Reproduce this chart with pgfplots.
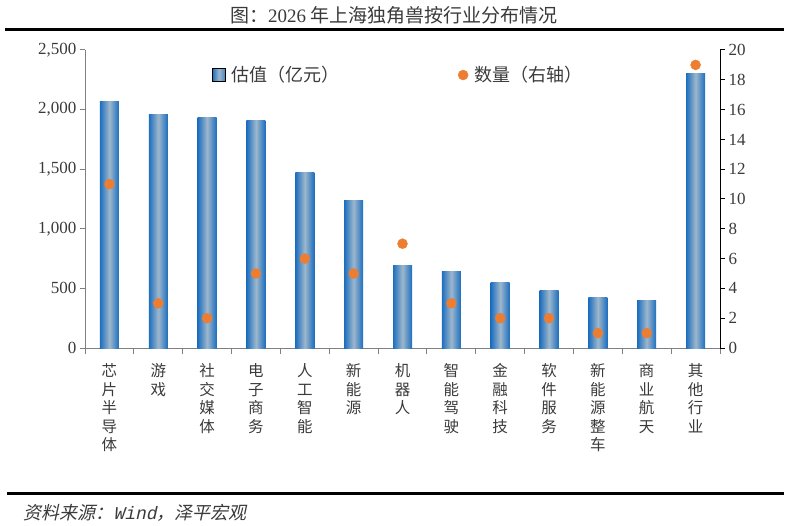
\documentclass[border=0pt]{standalone}
\usepackage{fontspec}
\usepackage{pgfplots}
\pgfplotsset{compat=1.18}
\setmainfont{Liberation Serif}
\newfontfamily\cjk{Noto Sans CJK SC}
\newfontfamily\cjkit[FakeSlant=0.22]{Noto Sans CJK SC}
\newfontfamily\monoit[FakeSlant=0.22]{Liberation Mono}
\definecolor{bb}{HTML}{1C6EBF}
\definecolor{bl}{HTML}{9DB7CC}
\definecolor{dot}{HTML}{ED7D31}
\definecolor{tx}{HTML}{3A3A3A}
\pgfplotsset{shbar/.style={ybar, bar width=19pt, bar shift=0pt, draw=none, left color=bb, right color=bb, middle color=bl, forget plot}}
\begin{document}
\begin{tikzpicture}
\useasboundingbox (0pt,0pt) rectangle (789pt,525pt);
% title and rules
\node[font=\fontsize{19}{19}\selectfont, text=tx] at (394pt,510pt) {{\cjk 图：}2026 {\cjk 年上海独角兽按行业分布情况}};
\draw[line width=3pt] (5pt,495pt) -- (784pt,495pt);
\draw[line width=3pt] (7pt,32pt) -- (784pt,32pt);
\node[anchor=west, font=\fontsize{18}{18}\selectfont, text=tx] at (20pt,12pt) {{\cjkit 资料来源：}{\monoit Wind}{\cjkit ，泽平宏观}};

\begin{axis}[
  at={(85pt,177pt)}, anchor=south west,
  scale only axis, width=635pt, height=298pt,
  xmin=-0.5, xmax=12.5, ymin=0, ymax=2500,
  axis x line*=bottom, axis y line*=left,
  every outer x axis line/.append style={-, draw=gray, line width=1pt},
  every outer y axis line/.append style={-, draw=gray, line width=1pt},
  ytick={0,500,...,2500},
  yticklabel style={font=\fontsize{17}{17}\selectfont, text=tx},
  /pgf/number format/.cd, 1000 sep={,}, assume math mode=true, /pgfplots/.cd,
  xtick={0,...,12},
  xticklabels={{芯\\片\\半\\导\\体},{游\\戏},{社\\交\\媒\\体},{电\\子\\商\\务},{人\\工\\智\\能},{新\\能\\源},{机\\器\\人},{智\\能\\驾\\驶},{金\\融\\科\\技},{软\\件\\服\\务},{新\\能\\源\\整\\车},{商\\业\\航\\天},{其\\他\\行\\业}},
  xticklabel style={font=\cjk\fontsize{15.5}{18.5}\selectfont, text=tx, align=center, anchor=north, yshift=-7pt},
  major x tick style={draw=none},
  minor xtick={-0.5,0.5,...,12.5},
  minor x tick style={draw=gray, line width=1pt},
  minor tick length=6pt,
  major tick length=5pt,
  y tick style={draw=gray, line width=1pt},
  tick align=outside,
  xtick pos=bottom, ytick pos=left,
  legend style={at={(0.2,0.916)}, anchor=west, draw=none, fill=none, font=\cjk\fontsize{18}{18}\selectfont, text=tx, inner sep=0pt},
]
\addplot[shbar] coordinates {(0,2070)};
\addplot[shbar] coordinates {(1,1955)};
\addplot[shbar] coordinates {(2,1930)};
\addplot[shbar] coordinates {(3,1910)};
\addplot[shbar] coordinates {(4,1470)};
\addplot[shbar] coordinates {(5,1240)};
\addplot[shbar] coordinates {(6,690)};
\addplot[shbar] coordinates {(7,640)};
\addplot[shbar] coordinates {(8,550)};
\addplot[shbar] coordinates {(9,480)};
\addplot[shbar] coordinates {(10,420)};
\addplot[shbar] coordinates {(11,400)};
\addplot[shbar] coordinates {(12,2300)};
\addlegendimage{legend image code/.code={\path[left color=bb, right color=bb!70!bl, middle color=bl] (0pt,-6.5pt) rectangle (13pt,6.5pt);}}
\addlegendentry{\ 估值（亿元）}
\end{axis}

\begin{axis}[
  at={(85pt,177pt)}, anchor=south west,
  scale only axis, width=635pt, height=298pt,
  xmin=-0.5, xmax=12.5, ymin=0, ymax=20,
  axis x line=none, axis y line*=right,
  every outer y axis line/.append style={-, draw=black, line width=1pt},
  ytick={0,2,...,20},
  yticklabel style={font=\fontsize{17}{17}\selectfont, text=tx},
  /pgf/number format/.cd, assume math mode=true, /pgfplots/.cd,
  y tick style={draw=black, line width=1pt},
  major tick length=5pt,
  tick align=outside, ytick pos=right,
  legend style={at={(0.587,0.916)}, anchor=west, draw=none, fill=none, font=\cjk\fontsize{18}{18}\selectfont, text=tx, inner sep=0pt},
  legend image code/.code={\fill[dot] (6pt,0pt) circle (5pt);},
]
\addplot[only marks, mark=*, mark size=5pt, color=dot] coordinates {
(0,11) (1,3) (2,2) (3,5) (4,6) (5,5) (6,7) (7,3) (8,2) (9,2) (10,1) (11,1) (12,19)
};
\addlegendentry{\ 数量（右轴）}
\end{axis}
\end{tikzpicture}
\end{document}
